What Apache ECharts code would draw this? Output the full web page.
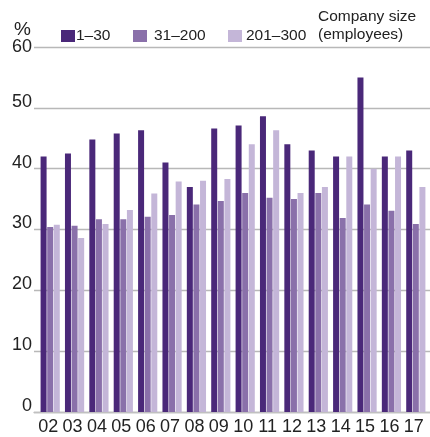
<!DOCTYPE html>
<html>
<head>
<meta charset="utf-8">
<script src="https://cdn.jsdelivr.net/npm/echarts@6/dist/echarts.min.js"></script>
<style>html,body{margin:0;padding:0;background:#fff;}#c{width:430px;height:437px;}</style>
</head>
<body>
<div id="c"></div>
<script>
const categories = ['02','03','04','05','06','07','08','09','10','11','12','13','14','15','16','17'];
const size1to30   = [42.0,42.5,44.8,45.8,46.3,41.0,37.0,46.6,47.1,48.6,44.0,43.0,42.0,55.0,42.0,43.0];
const size31to200 = [30.4,30.6,31.7,31.7,32.1,32.4,34.1,34.7,36.0,35.2,35.0,36.0,31.9,34.1,33.1,30.9];
const size201to300= [30.8,28.6,30.9,33.2,35.9,37.9,38.0,38.3,44.0,46.3,36.0,37.0,42.0,40.0,42.0,37.0];
const seriesNames = ['1–30','31–200','201–300'];
const yTicks = [0,10,20,30,40,50,60];

const colors = ['#4a2879','#8a70aa','#c4b6d8'];
const font = 'Liberation Sans, Arial, Helvetica, sans-serif';
const chart = echarts.init(document.getElementById('c'), null, {renderer:'canvas'});

const legendBase = (name, left, pad) => ({
  data:[name], left:left, top:28, itemWidth:14, itemHeight:12, itemGap:0, padding:0,
  icon:'rect', selectedMode:false,
  textStyle:{fontFamily:font, fontSize:15.5, color:'#222', lineHeight:12, padding:[0,0,0,pad]}
});

chart.setOption({
  animation:false,
  color:colors,
  title:[
    {text:'%', left:14, top:20, padding:0, textStyle:{fontFamily:font, fontSize:19, fontWeight:'normal', color:'#222'}},
    {text:'Company size\n(employees)', left:318, top:8, padding:0, textStyle:{fontFamily:font, fontSize:15.5, fontWeight:'normal', color:'#222', lineHeight:18}}
  ],
  legend:[legendBase(seriesNames[0],61,-4), legendBase(seriesNames[1],133,2), legendBase(seriesNames[2],228,-1)],
  grid:[
    {left:34, right:0, top:47, bottom:25},
    {left:38, right:2, top:47, bottom:25}
  ],
  xAxis:[
    {type:'category', gridIndex:0, data:categories, show:true, axisLabel:{show:false}, axisTick:{show:false},
     axisLine:{show:true, lineStyle:{color:'#c0c0c0', width:1.3}}},
    {type:'category', gridIndex:1, data:categories, boundaryGap:true,
     axisLine:{show:false}, axisTick:{show:false},
     axisLabel:{interval:0, fontFamily:font, fontSize:18, color:'#222', margin:6, padding:[0,4,0,0]}}
  ],
  yAxis:[
    {type:'value', gridIndex:0, min:0, max:60, interval:10,
     axisLine:{show:false}, axisTick:{show:false},
     splitLine:{show:true, lineStyle:{color:'#b8b8b8', width:1.3}},
     axisLabel:{fontFamily:font, fontSize:18, color:'#222', margin:2, verticalAlign:'bottom', lineHeight:12,
       formatter:v => (v === yTicks[yTicks.length-1] ? '' : String(v))}},
    {type:'value', gridIndex:0, position:'left', min:0, max:60, interval:10,
     axisLine:{show:false}, axisTick:{show:false}, splitLine:{show:false},
     axisLabel:{fontFamily:font, fontSize:18, color:'#222', margin:2, verticalAlign:'middle',
       formatter:v => (v === yTicks[yTicks.length-1] ? String(v) : '')}},
    {type:'value', gridIndex:1, min:0, max:60, interval:10, show:false}
  ],
  series:[
    {name:seriesNames[0], type:'bar', xAxisIndex:1, yAxisIndex:2, data:size1to30, barWidth:6, barGap:'10%'},
    {name:seriesNames[1], type:'bar', xAxisIndex:1, yAxisIndex:2, data:size31to200, barWidth:6, barGap:'10%'},
    {name:seriesNames[2], type:'bar', xAxisIndex:1, yAxisIndex:2, data:size201to300, barWidth:6, barGap:'10%'}
  ]
});
</script>
</body>
</html>
